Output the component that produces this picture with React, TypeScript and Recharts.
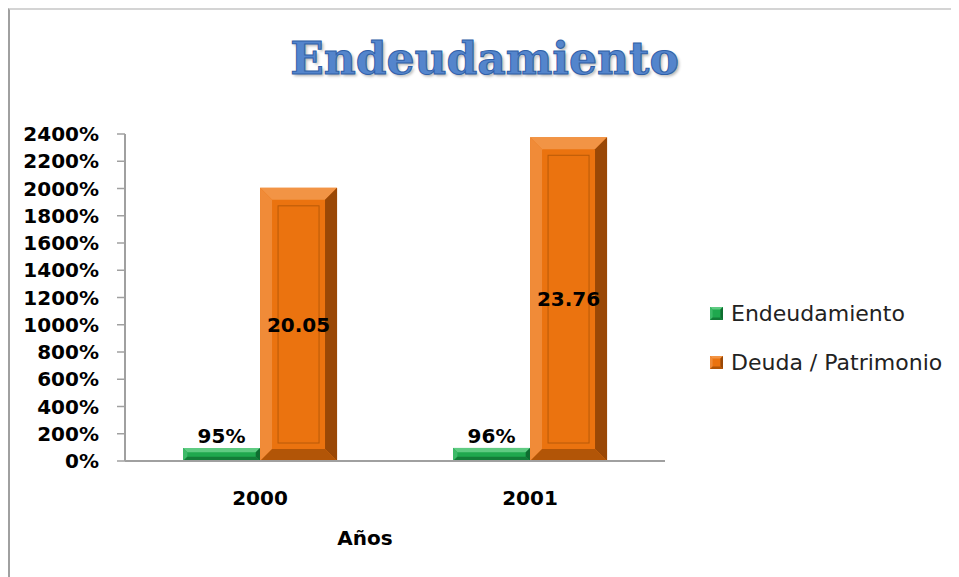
import React from "react";
import { BarChart, Bar, XAxis, YAxis, Legend, LabelList } from "recharts";

const years = ["2000", "2001"];
const endeudamiento = [95, 96];
const deudaPatrimonio = [2005, 2376];
const yTicks = [0, 200, 400, 600, 800, 1000, 1200, 1400, 1600, 1800, 2000, 2200, 2400];
const seriesOrder = ["endeudamiento", "deuda"];

const data = years.map((y, i) => ({
  year: y,
  endeudamiento: endeudamiento[i],
  deuda: deudaPatrimonio[i],
}));

const FONT = "'DejaVu Sans', sans-serif";

const palettes: Record<string, { base: string; top: string; left: string; right: string; bottom: string; line: string }> = {
  green: { base: "#1FA84E", top: "#5FCB82", left: "#3DBA68", right: "#0E6E30", bottom: "#137C38", line: "#168A3F" },
  orange: { base: "#EB730F", top: "#F29445", left: "#F08B38", right: "#9A4806", bottom: "#B25507", line: "#B85A08" },
};

function BevelBar(props: any) {
  const { x, y, width, height, tone } = props;
  if (!height || height <= 0) return null;
  const p = palettes[tone];
  const b = Math.min(12, height / 3, width / 5);
  const x2 = x + width;
  const y2 = y + height;
  const inset = b + 6;
  return (
    <g>
      <rect x={x} y={y} width={width} height={height} fill={p.base} />
      <polygon points={`${x},${y} ${x2},${y} ${x2 - b},${y + b} ${x + b},${y + b}`} fill={p.top} />
      <polygon points={`${x},${y} ${x + b},${y + b} ${x + b},${y2 - b} ${x},${y2}`} fill={p.left} />
      <polygon points={`${x2},${y} ${x2},${y2} ${x2 - b},${y2 - b} ${x2 - b},${y + b}`} fill={p.right} />
      <polygon points={`${x},${y2} ${x + b},${y2 - b} ${x2 - b},${y2 - b} ${x2},${y2}`} fill={p.bottom} />
      {height > 60 && (
        <rect
          x={x + inset}
          y={y + inset}
          width={width - inset * 2}
          height={height - inset * 2}
          fill="none"
          stroke={p.line}
          strokeWidth={1}
        />
      )}
    </g>
  );
}

function LegendContent(props: any) {
  const items = [...(props.payload || [])].sort(
    (a: any, b: any) => seriesOrder.indexOf(a.dataKey) - seriesOrder.indexOf(b.dataKey)
  );
  return (
    <div style={{ fontFamily: FONT, fontSize: 22, color: "#222" }}>
      {items.map((it: any) => (
        <div key={it.value} style={{ display: "flex", alignItems: "center", height: 49 }}>
          <svg width={14} height={14} style={{ marginRight: 7 }}>
            <BevelBar x={0} y={0} width={13} height={13} tone={it.dataKey === "deuda" ? "orange" : "green"} />
          </svg>
          <span>{it.value}</span>
        </div>
      ))}
    </div>
  );
}

function AxisTitle(props: any) {
  const { viewBox } = props;
  return (
    <text
      x={viewBox.x + viewBox.width / 2 - 30}
      y={viewBox.y + 84}
      textAnchor="middle"
      fontFamily={FONT}
      fontWeight="bold"
      fontSize={20}
      fill="#000"
    >
      Años
    </text>
  );
}

export default function App() {
  return (
    <div
      style={{
        position: "relative",
        width: 949,
        height: 567,
        borderTop: "2px solid #d4d4d4",
        borderLeft: "2px solid #a0a0a0",
        background: "#fff",
      }}
    >
      <div
        style={{
          position: "absolute",
          top: 26,
          left: 0,
          width: 949,
          textAlign: "center",
          fontFamily: "'DejaVu Serif', serif",
          fontWeight: "bold",
          fontSize: 44,
          lineHeight: "46px",
          color: "#5485CC",
          WebkitTextStroke: "1px #2F5FA8",
          textShadow: "2px 2px 3px rgba(0,0,0,0.3)",
        }}
      >
        Endeudamiento
      </div>
      <BarChart
        width={949}
        height={567}
        data={data}
        margin={{ top: 124, right: 294, left: 0, bottom: 56 }}
        barCategoryGap="21.5%"
        barGap={0}
      >
        <XAxis
          dataKey="year"
          height={60}
          axisLine={{ stroke: "#a0a0a0", strokeWidth: 2 }}
          tickLine={false}
          tickMargin={24}
          tick={{ fontFamily: FONT, fontWeight: "bold", fontSize: 20, fill: "#000" }}
          label={<AxisTitle />}
        />
        <YAxis
          width={115}
          domain={[0, 2400]}
          ticks={yTicks}
          interval={0}
          tickFormatter={(v: number) => `${v}%`}
          axisLine={{ stroke: "#a0a0a0", strokeWidth: 2 }}
          tickLine={{ stroke: "#a0a0a0", strokeWidth: 1.5 }}
          tickSize={8}
          tickMargin={18}
          tick={{ fontFamily: FONT, fontWeight: "bold", fontSize: 20, fill: "#000" }}
        />
        <Legend
          layout="vertical"
          align="center"
          verticalAlign="middle"
          content={<LegendContent />}
          wrapperStyle={{ left: 700, top: 279, width: 250 }}
        />
        <Bar
          dataKey="endeudamiento"
          name="Endeudamiento"
          fill="#1FA84E"
          isAnimationActive={false}
          shape={(p: any) => <BevelBar {...p} tone="green" />}
        >
          <LabelList
            dataKey="endeudamiento"
            position="top"
            offset={5}
            formatter={(v: any) => `${v}%`}
            style={{ fontFamily: FONT, fontWeight: "bold", fontSize: 20, fill: "#000" }}
          />
        </Bar>
        <Bar
          dataKey="deuda"
          name="Deuda / Patrimonio"
          fill="#EB730F"
          isAnimationActive={false}
          shape={(p: any) => <BevelBar {...p} tone="orange" />}
        >
          <LabelList
            dataKey="deuda"
            position="center"
            formatter={(v: any) => (Number(v) / 100).toFixed(2)}
            style={{ fontFamily: FONT, fontWeight: "bold", fontSize: 20, fill: "#000" }}
          />
        </Bar>
      </BarChart>
    </div>
  );
}
